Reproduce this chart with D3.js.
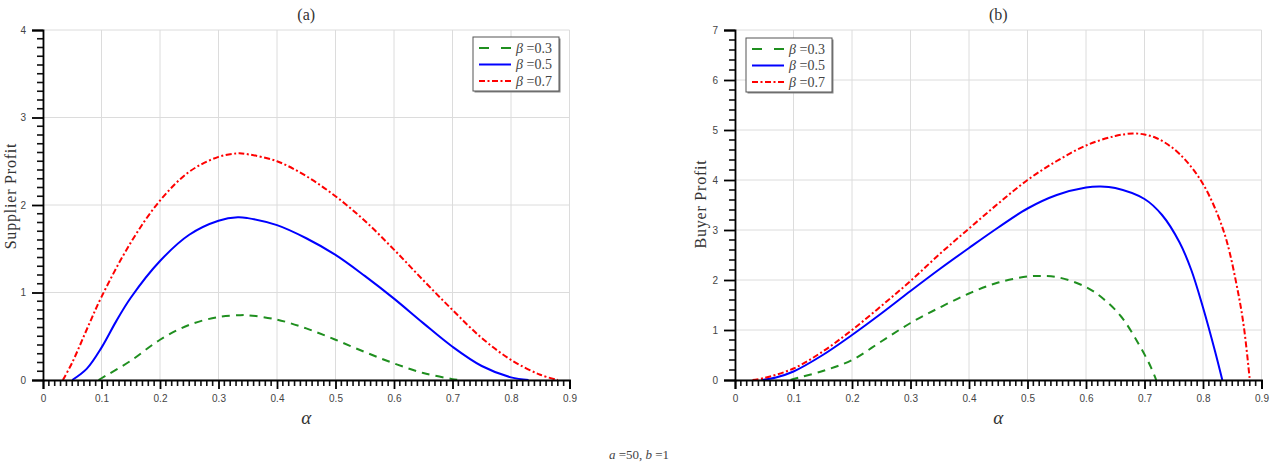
<!DOCTYPE html>
<html><head><meta charset="utf-8">
<script src="https://cdn.jsdelivr.net/npm/d3@7"></script>
<style>body{margin:0;background:#fff}svg{display:block}</style>
</head><body><svg id="c" width="1278" height="467"></svg>
<script>
// ---- data ----
const seriesNames = ["β =0.3", "β =0.5", "β =0.7"];
const xTicks = [0, 0.1, 0.2, 0.3, 0.4, 0.5, 0.6, 0.7, 0.8, 0.9];
const yTicksA = [0, 1, 2, 3, 4];
const yTicksB = [0, 1, 2, 3, 4, 5, 6, 7];

// (a) Supplier profit
const a03x = [0.095, 0.1, 0.15, 0.2, 0.25, 0.3, 0.335, 0.35, 0.4, 0.45, 0.5, 0.55, 0.6, 0.65, 0.7, 0.71];
const a03y = [0, 0.02, 0.22, 0.46, 0.63, 0.72, 0.74, 0.74, 0.69, 0.59, 0.46, 0.32, 0.19, 0.08, 0.01, 0];
const a05x = [0.05, 0.075, 0.1, 0.125, 0.15, 0.2, 0.25, 0.3, 0.333, 0.35, 0.4, 0.45, 0.5, 0.55, 0.6, 0.65, 0.7, 0.75, 0.8, 0.83];
const a05y = [0, 0.13, 0.37, 0.67, 0.94, 1.36, 1.66, 1.82, 1.86, 1.85, 1.77, 1.62, 1.43, 1.19, 0.93, 0.65, 0.38, 0.16, 0.03, 0];
const a07x = [0.034, 0.05, 0.075, 0.1, 0.15, 0.2, 0.25, 0.3, 0.333, 0.35, 0.4, 0.45, 0.5, 0.55, 0.6, 0.65, 0.7, 0.75, 0.8, 0.85, 0.88];
const a07y = [0, 0.2, 0.58, 0.95, 1.57, 2.05, 2.38, 2.55, 2.59, 2.58, 2.50, 2.33, 2.10, 1.82, 1.49, 1.14, 0.80, 0.48, 0.23, 0.06, 0];

// (b) Buyer profit
const b03x = [0.095, 0.1, 0.15, 0.2, 0.25, 0.3, 0.35, 0.4, 0.45, 0.5, 0.52, 0.55, 0.6, 0.63, 0.66, 0.69, 0.71, 0.72];
const b03y = [0, 0.02, 0.18, 0.4, 0.77, 1.14, 1.45, 1.73, 1.95, 2.07, 2.08, 2.06, 1.86, 1.62, 1.27, 0.72, 0.28, 0];
const b05x = [0.045, 0.07, 0.1, 0.15, 0.2, 0.25, 0.3, 0.35, 0.4, 0.45, 0.5, 0.55, 0.6, 0.625, 0.65, 0.7, 0.73, 0.76, 0.78, 0.8, 0.82, 0.833];
const b05y = [0, 0.05, 0.17, 0.5, 0.9, 1.33, 1.78, 2.22, 2.64, 3.05, 3.43, 3.70, 3.85, 3.87, 3.84, 3.62, 3.3, 2.75, 2.2, 1.45, 0.6, 0];
const b07x = [0.03, 0.05, 0.1, 0.15, 0.2, 0.25, 0.3, 0.35, 0.4, 0.45, 0.5, 0.55, 0.6, 0.65, 0.68, 0.7, 0.72, 0.74, 0.76, 0.78, 0.8, 0.82, 0.84, 0.86, 0.87, 0.88];
const b07y = [0, 0.04, 0.23, 0.57, 1.0, 1.48, 1.98, 2.52, 3.03, 3.53, 4.0, 4.38, 4.69, 4.88, 4.93, 4.91, 4.84, 4.71, 4.52, 4.26, 3.92, 3.45, 2.8, 1.75, 1.05, 0];

// ---- drawing ----
const svg = d3.select("#c");
const styles = [
  {color: "#1f8f1f", dash: "8,6"},
  {color: "#0000ff", dash: null},
  {color: "#ff0000", dash: "6,2.5,2,2.5"}
];
const tickFont = "'Liberation Sans', Arial, sans-serif";
const serif = "'Liberation Serif', 'DejaVu Serif', serif";

function panel(opts) {
  const x = d3.scaleLinear().domain([0, 0.9]).range([opts.x0, opts.x1]);
  const y = d3.scaleLinear().domain([0, opts.ymax]).range([380, 30]);
  const g = svg.append("g");

  // grid
  g.append("g").selectAll("line").data(xTicks).join("line")
    .attr("x1", d => x(d)).attr("x2", d => x(d)).attr("y1", y(0)).attr("y2", y(opts.ymax))
    .attr("stroke", "#dcdcdc").attr("stroke-width", 1);
  g.append("g").selectAll("line").data(opts.yTicks).join("line")
    .attr("x1", x(0)).attr("x2", x(0.9)).attr("y1", d => y(d)).attr("y2", d => y(d))
    .attr("stroke", "#dcdcdc").attr("stroke-width", 1);

  // curves
  const line = d3.line().x(d => x(d[0])).y(d => y(d[1])).curve(d3.curveCatmullRom.alpha(0.5));
  opts.series.forEach((s, i) => {
    const pts = s[0].map((v, k) => [v, s[1][k]]);
    g.append("path").datum(pts).attr("d", line)
      .attr("fill", "none").attr("stroke", styles[i].color).attr("stroke-width", 2)
      .attr("stroke-dasharray", styles[i].dash);
  });

  // minor ticks
  const xMinor = d3.range(0, 91).map(k => k / 100).filter(v => Math.round(v * 100) % 10 !== 0);
  g.append("g").selectAll("line").data(xMinor).join("line")
    .attr("x1", d => x(d)).attr("x2", d => x(d))
    .attr("y1", y(0)).attr("y2", y(0) + 6)
    .attr("stroke", "#111").attr("stroke-width", 1.6);
  const yMinor = d3.range(0, Math.round(opts.ymax / opts.minorStep) + 1).map(k => +(k * opts.minorStep).toFixed(3))
    .filter(v => Math.abs(v - Math.round(v)) > 1e-6);
  g.append("g").selectAll("line").data(yMinor).join("line")
    .attr("y1", d => y(d)).attr("y2", d => y(d))
    .attr("x1", x(0) - 6).attr("x2", x(0))
    .attr("stroke", "#111").attr("stroke-width", 1.6);

  // major axes
  const xa = g.append("g").attr("transform", `translate(0,${y(0)})`)
    .call(d3.axisBottom(x).tickValues(xTicks).tickSize(9).tickPadding(6).tickFormat(d3.format("")));
  const ya = g.append("g").attr("transform", `translate(${x(0)},0)`)
    .call(d3.axisLeft(y).tickValues(opts.yTicks).tickSize(11).tickPadding(6).tickFormat(d3.format("d")));
  [xa, ya].forEach(a => {
    a.selectAll("path.domain").attr("stroke", "#000").attr("stroke-width", 1.8);
    a.selectAll(".tick line").attr("stroke", "#000").attr("stroke-width", 1.8);
    a.selectAll("text").attr("font-family", tickFont).attr("font-size", 10).attr("fill", "#444");
  });

  // title
  g.append("text").attr("x", (x(0) + x(0.9)) / 2).attr("y", 20).attr("text-anchor", "middle")
    .attr("font-family", serif).attr("font-size", 16).attr("fill", "#333").text(opts.title);
  // x label
  g.append("text").attr("x", (x(0) + x(0.9)) / 2).attr("y", 424).attr("text-anchor", "middle")
    .attr("font-family", serif).attr("font-style", "italic").attr("font-size", 19).attr("fill", "#333").text("α");
  // y label
  g.append("text").attr("transform", `translate(${opts.ylabX},${opts.ylabY}) rotate(-90)`)
    .attr("text-anchor", "middle").attr("font-family", serif).attr("font-size", 16)
    .attr("letter-spacing", 0.8).attr("fill", "#333").text(opts.ylabel);

  // legend
  const L = opts.legend;
  const lg = g.append("g").attr("transform", `translate(${L.x},${L.y})`);
  lg.append("rect").attr("x", 1.5).attr("y", 1.5).attr("width", L.w).attr("height", 54).attr("fill", "#888");
  lg.append("rect").attr("x", 0).attr("y", 0).attr("width", L.w).attr("height", 54)
    .attr("fill", "#fff").attr("stroke", "#555").attr("stroke-width", 1);
  seriesNames.forEach((name, i) => {
    const yy = 11 + i * 16.5;
    lg.append("line").attr("x1", 6).attr("x2", 38).attr("y1", yy).attr("y2", yy)
      .attr("stroke", styles[i].color).attr("stroke-width", 2)
      .attr("stroke-dasharray", i === 0 ? "10,12" : styles[i].dash);
    const t = lg.append("text").attr("x", 43).attr("y", yy + 4.5).attr("font-family", serif)
      .attr("font-size", 14).attr("fill", "#444");
    t.append("tspan").attr("font-style", "italic").text(name.split(" ")[0]);
    t.append("tspan").text(" " + name.split(" ")[1]);
  });
}

panel({x0: 43, x1: 569.5, ymax: 4, yTicks: yTicksA, minorStep: 0.1, title: "(a)",
  ylabel: "Supplier Profit", ylabX: 16, ylabY: 196,
  legend: {x: 473, y: 37, w: 86},
  series: [[a03x, a03y], [a05x, a05y], [a07x, a07y]]});
panel({x0: 735, x1: 1261.5, ymax: 7, yTicks: yTicksB, minorStep: 0.2, title: "(b)",
  ylabel: "Buyer Profit", ylabX: 706, ylabY: 204,
  legend: {x: 746, y: 38, w: 86},
  series: [[b03x, b03y], [b05x, b05y], [b07x, b07y]]});

// footer
const ft = svg.append("text").attr("x", 639).attr("y", 459).attr("text-anchor", "middle")
  .attr("font-family", serif).attr("font-size", 13).attr("fill", "#444");
ft.append("tspan").attr("font-style", "italic").text("a");
ft.append("tspan").text(" =50, ");
ft.append("tspan").attr("font-style", "italic").text("b");
ft.append("tspan").text(" =1");
</script></body></html>
